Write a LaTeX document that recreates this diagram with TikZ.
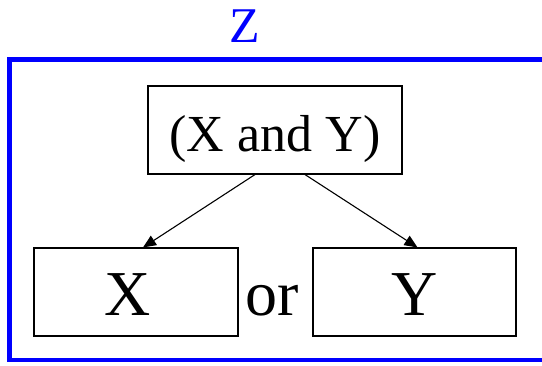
\documentclass[tikz,border=0pt]{standalone}
\usepackage{fontspec}
\setmainfont{Liberation Serif}
\usetikzlibrary{arrows.meta}
\begin{document}
\begin{tikzpicture}[x=1pt,y=1pt,
  boxnode/.style={draw=black,line width=1.1pt,inner sep=0pt,minimum height=88pt},
  arr/.style={line width=1.1pt,-{Triangle[length=13pt,width=11pt]}},
  frame/.style={draw=blue,line width=4.5pt}]
\useasboundingbox (0,0) rectangle (542,365);
\fill[white] (0,0) rectangle (542,365);
\draw[frame] (548,305.5) -- (9.5,305.5) -- (9.5,5) -- (548,5);
\node[anchor=base,text=blue,font=\fontsize{50}{60}\selectfont] (z) at (245,322) {Z};
\node[boxnode,minimum width=254pt,text height=44pt,text depth=0pt,font=\fontsize{52}{62}\selectfont] (top) at (275,235) {(X and Y)};
\node[boxnode,minimum width=204pt,text height=48pt,text depth=0pt,font=\fontsize{64}{76}\selectfont] (lx) at (136,73) {X\kern16pt\relax};
\node[boxnode,minimum width=203pt,text height=48pt,text depth=0pt,font=\fontsize{64}{76}\selectfont] (ry) at (414.5,73) {Y};
\node[anchor=base,font=\fontsize{64}{76}\selectfont] (or) at (272,49) {or};
\draw[arr] ([xshift=-20pt]top.south) -- ([xshift=7pt]lx.north);
\draw[arr] ([xshift=30pt]top.south) -- ([xshift=3pt]ry.north);
\end{tikzpicture}
\end{document}
